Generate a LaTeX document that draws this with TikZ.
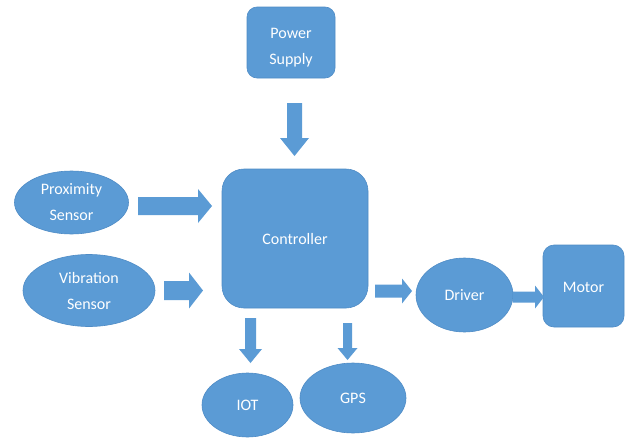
\documentclass[tikz,border=0pt]{standalone}
\usepackage{fontspec}
\setmainfont{Carlito}
\usetikzlibrary{shapes.geometric}
\definecolor{officeblue}{HTML}{5B9BD5}
\definecolor{officeedge}{HTML}{4F8CC6}
% horizontal block arrow: x start, head start, tip x, centre y, shaft half, head half
\newcommand\hblockarrow[6]{%
  \fill[blockarrow] ({#1},{#4-#5}) -- ({#2},{#4-#5}) -- ({#2},{#4-#6}) -- ({#3},{#4})
    -- ({#2},{#4+#6}) -- ({#2},{#4+#5}) -- ({#1},{#4+#5}) -- cycle;}
% vertical block arrow: y start, head start, tip y, centre x, shaft half, head half
\newcommand\vblockarrow[6]{%
  \fill[blockarrow] ({#4-#5},{#1}) -- ({#4-#5},{#2}) -- ({#4-#6},{#2}) -- ({#4},{#3})
    -- ({#4+#6},{#2}) -- ({#4+#5},{#2}) -- ({#4+#5},{#1}) -- cycle;}
\begin{document}
\begin{tikzpicture}[x=1pt,y=-1pt,
  every node/.style={text=white,font=\fontsize{16}{26}\selectfont,align=center,inner sep=0pt},
  boxnode/.style={rectangle,fill=officeblue,draw=officeedge,line width=0.6pt},
  ovalnode/.style={ellipse,fill=officeblue,draw=officeedge,line width=0.6pt},
  blockarrow/.style={fill=officeblue}]
\fill[white] (0,0) rectangle (626,439);
\useasboundingbox (0,0) rectangle (626,439);

% blocks
\node[boxnode,rounded corners=10pt,minimum width=88pt,minimum height=71pt] (power) at (291,42.5) {\rule{0pt}{20pt}Power\\Supply};
\node[boxnode,rounded corners=22pt,minimum width=146pt,minimum height=139pt] (ctrl) at (295,238.5) {Controller};
\node[boxnode,rounded corners=11pt,minimum width=81pt,minimum height=82pt] (motor) at (583.5,286) {\rule{0pt}{14pt}Motor};

\node[ovalnode,minimum width=114pt,minimum height=63pt] (prox) at (71.5,202.5) {Proximity\\Sensor};
\node[ovalnode,minimum width=132pt,minimum height=72pt] (vib) at (89,290.5) {Vibration\\Sensor};
\node[ovalnode,minimum width=97pt,minimum height=74pt] (drv) at (464.5,295) {Driver};
\node[ovalnode,minimum width=91pt,minimum height=64pt] (iot) at (247.5,405) {IOT};
\node[ovalnode,minimum width=106pt,minimum height=70pt] (gps) at (353,398) {GPS};

% block arrows
\vblockarrow{103}{138}{156}{294.5}{7.5}{14.5}
\hblockarrow{138}{198}{212}{206}{9}{17}
\hblockarrow{164}{189}{203}{290.5}{9.5}{18}
\hblockarrow{375}{402}{412}{291}{6.5}{12.5}
\hblockarrow{513}{535}{544}{297}{5.5}{11.5}
\vblockarrow{318}{349}{363}{250.5}{5.5}{11.5}
\vblockarrow{323}{348}{360}{347.5}{4.5}{10}
\end{tikzpicture}
\end{document}
